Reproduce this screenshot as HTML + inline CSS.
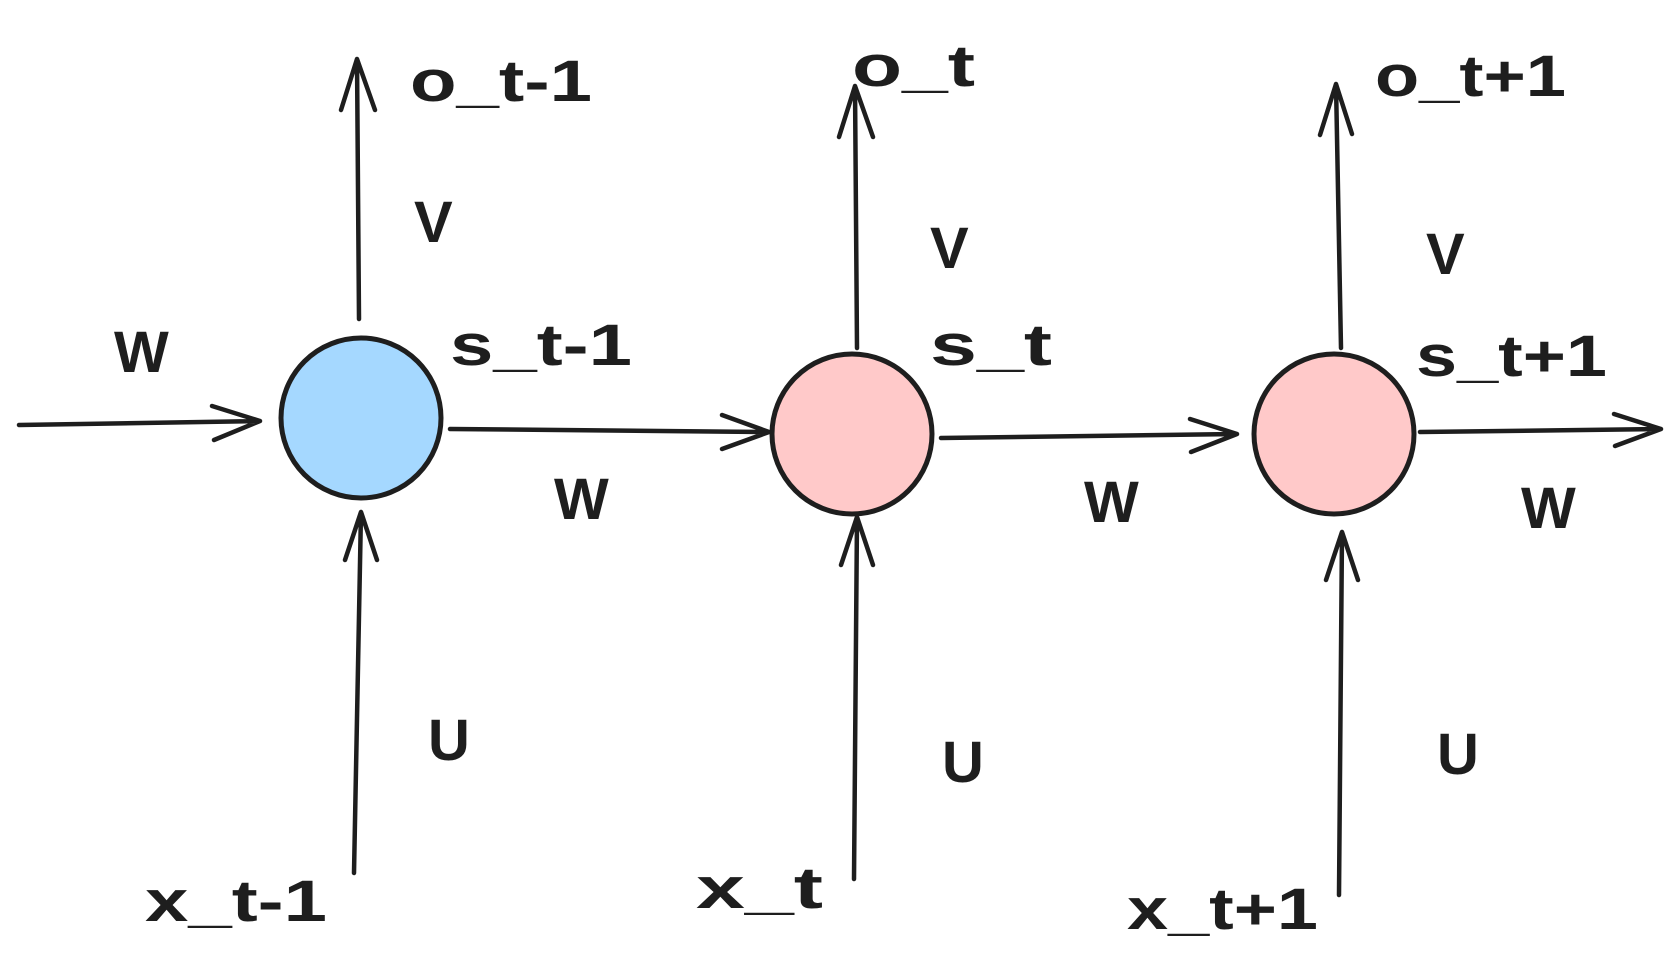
<!DOCTYPE html>
<html><head><meta charset="utf-8"><style>
html,body{margin:0;padding:0;background:#fff;}
svg{display:block;}
text{font-family:"Liberation Sans",sans-serif;font-size:58px;fill:#1e1e1e;font-weight:bold;}
</style></head><body>
<svg width="1680" height="974" viewBox="0 0 1680 974" xmlns="http://www.w3.org/2000/svg">
<g stroke="#1e1e1e" stroke-width="4.5" fill="none" stroke-linecap="round" stroke-linejoin="round">
<circle cx="361" cy="418" r="80" fill="#a5d8ff" stroke-width="5"/>
<circle cx="852" cy="434" r="80" fill="#ffc9c9" stroke-width="5"/>
<circle cx="1334" cy="434" r="80" fill="#ffc9c9" stroke-width="5"/>
<path d="M19 425 L260 421 M212 406 L260 421 L214 440"/>
<path d="M450 429 L769 432 M722 415 L769 432 L722 449"/>
<path d="M941 438 L1237 434 M1190 419 L1237 434 L1191 452"/>
<path d="M1420 432 L1661 429 M1614 414 L1661 429 L1615 446"/>
<path d="M359 319 L357 59 M341 110 L357 59 L375 110"/>
<path d="M857 348 L855 86 M839 137 L855 86 L873 137"/>
<path d="M1341 348 L1336 84 M1320 135 L1336 84 L1352 134"/>
<path d="M354 873 L361 512 M345 560 L361 512 L377 560"/>
<path d="M854 879 L857 517 M841 565 L857 517 L873 565"/>
<path d="M1339 895 L1342 532 M1326 580 L1342 532 L1358 580"/>
</g>
<text x="410" y="101" textLength="182" lengthAdjust="spacingAndGlyphs">o_t-1</text>
<text x="852" y="86" textLength="123" lengthAdjust="spacingAndGlyphs">o_t</text>
<text x="1375" y="96" textLength="191" lengthAdjust="spacingAndGlyphs">o_t+1</text>
<text x="414" y="242">V</text>
<text x="930" y="268">V</text>
<text x="1426" y="274">V</text>
<text x="450" y="365" textLength="182" lengthAdjust="spacingAndGlyphs">s_t-1</text>
<text x="930" y="365" textLength="122" lengthAdjust="spacingAndGlyphs">s_t</text>
<text x="1416" y="376" textLength="191" lengthAdjust="spacingAndGlyphs">s_t+1</text>
<text x="114" y="372">W</text>
<text x="554" y="519">W</text>
<text x="1084" y="522">W</text>
<text x="1521" y="528">W</text>
<text x="428" y="760">U</text>
<text x="942" y="782">U</text>
<text x="1437" y="774">U</text>
<text x="145" y="921" textLength="182" lengthAdjust="spacingAndGlyphs">x_t-1</text>
<text x="696" y="908" textLength="127" lengthAdjust="spacingAndGlyphs">x_t</text>
<text x="1127" y="929" textLength="191" lengthAdjust="spacingAndGlyphs">x_t+1</text>
</svg>
</body></html>
